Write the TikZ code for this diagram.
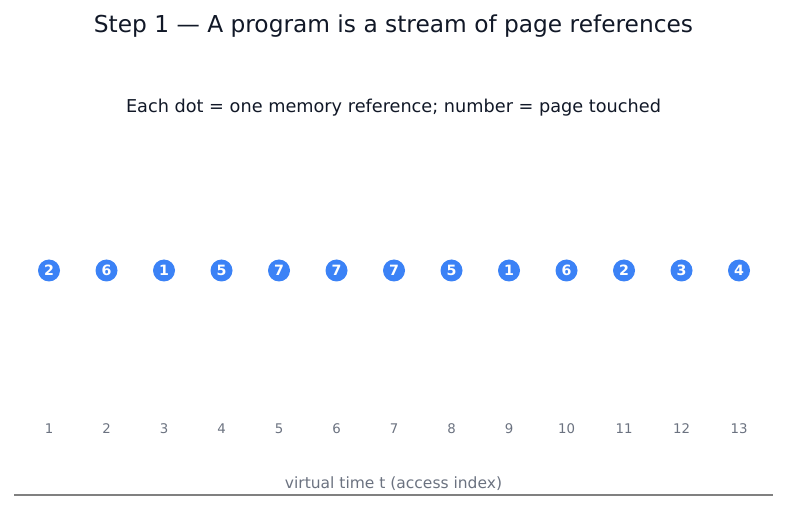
\documentclass[tikz,border=0pt]{standalone}
\usepackage{fontspec}
\setmainfont{DejaVu Sans}
\definecolor{dotblue}{HTML}{3B82F6}
\definecolor{titlecol}{HTML}{111827}
\definecolor{axgray}{HTML}{6B7280}
\definecolor{linegray}{HTML}{808080}
\begin{document}
\begin{tikzpicture}[x=1pt,y=-1pt,
  refdot/.style={circle,fill=dotblue,inner sep=0pt,minimum size=22pt,text=white,font=\fontsize{14.2}{14.2}\selectfont\bfseries},
  ticklab/.style={text=axgray,font=\fontsize{13.3}{13.3}\selectfont},
]
\useasboundingbox (0,0) rectangle (787,510);
\node[text=titlecol,font=\fontsize{23.3}{23.3}\selectfont] (title) at (393.5,26) {Step 1 — A program is a stream of page references};
\node[text=titlecol,font=\fontsize{17.7}{17.7}\selectfont] (sub) at (393.5,108) {Each dot = one memory reference; number = page touched};
\foreach \p [count=\i] in {2,6,1,5,7,7,7,5,1,6,2,3,4} {
  \pgfmathsetmacro{\xx}{49+(\i-1)*57.5}
  \node[refdot] (d\i) at (\xx,270.5) {\p};
  \node[ticklab] (t\i) at (\xx,429) {\i};
}
\node[text=axgray,font=\fontsize{15.5}{15.5}\selectfont] (axlab) at (393.5,484) {virtual time t (access index)};
\coordinate (al) at (14,495);
\coordinate (ar) at (773,495);
\draw[linegray,line width=1.5pt] (al) -- (ar);
\end{tikzpicture}
\end{document}
